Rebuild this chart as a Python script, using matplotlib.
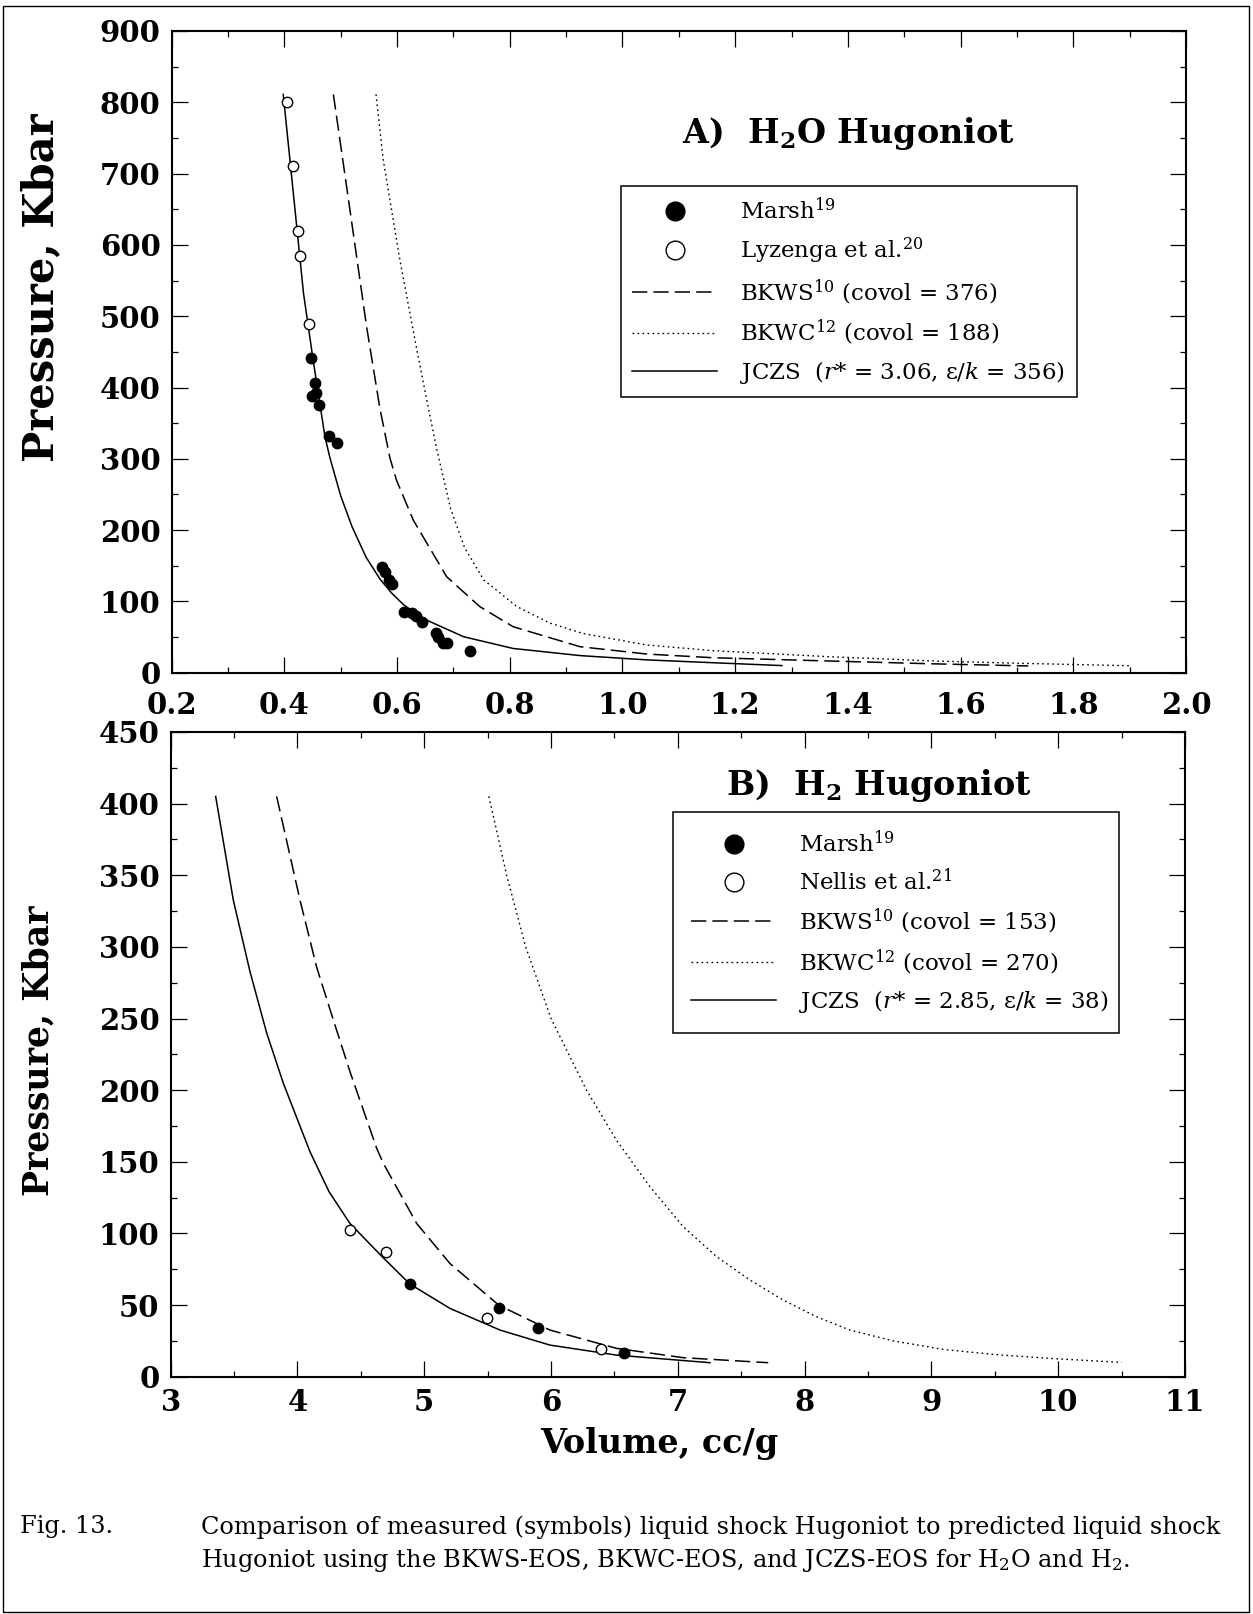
import matplotlib
matplotlib.use('Agg')
import matplotlib.pyplot as plt
from matplotlib.ticker import MultipleLocator, FormatStrFormatter
from matplotlib.patches import Rectangle

plt.rcParams['font.family'] = ['DejaVu Serif']
plt.rcParams['mathtext.fontset'] = 'dejavuserif'

# ---------------- Panel A: H2O ----------------
h2o_marsh_v = [0.4467, 0.4538, 0.456, 0.449, 0.461, 0.479, 0.4928, 0.5727, 0.578, 0.5862, 0.591,
               0.6121, 0.626, 0.6335, 0.6435, 0.669, 0.672, 0.682, 0.688, 0.7296]
h2o_marsh_p = [441, 407, 392, 388, 375, 331.5, 321.7, 147.8, 141.7, 130, 124.4,
               84.7, 84.2, 80, 71.5, 55, 50, 41.2, 41.2, 29.9]
h2o_lyz_v = [0.405, 0.4147, 0.4236, 0.428, 0.443]
h2o_lyz_p = [801, 710.6, 619.5, 585, 489]

h2o_jczs_v = [0.398, 0.416, 0.434, 0.451, 0.472, 0.481, 0.50, 0.52, 0.545, 0.57, 0.59, 0.612,
              0.649, 0.718, 0.806, 0.925, 1.043, 1.161, 1.283]
h2o_jczs_p = [811, 672, 532, 439, 331, 301, 248, 205, 162, 131, 112, 95,
              75, 50.5, 34, 24, 18, 14, 10]
h2o_bkws_v = [0.487, 0.5164, 0.546, 0.5697, 0.5874, 0.599, 0.6288, 0.688, 0.747, 0.806, 0.9246,
              1.043, 1.161, 1.368, 1.55, 1.72]
h2o_bkws_p = [811, 649, 485, 370, 301, 270, 214, 134.6, 92.6, 64.5, 36.5,
              26.2, 21, 16.4, 12.5, 9.5]
h2o_bkwc_v = [0.5626, 0.5755, 0.605, 0.6346, 0.652, 0.67, 0.695, 0.72, 0.754, 0.813, 0.87, 0.93,
              1.043, 1.161, 1.368, 1.55, 1.704, 1.9]
h2o_bkwc_p = [811, 719, 579, 455, 385, 315, 230, 175, 130, 92.6, 70, 55,
              38.9, 30.9, 22.4, 16.5, 13.2, 9.8]

labels_a = ["Marsh$^{19}$", "Lyzenga et al.$^{20}$", "BKWS$^{10}$ (covol = 376)",
            "BKWC$^{12}$ (covol = 188)", "JCZS  ($r$* = 3.06, ε/$k$ = 356)"]
title_a = r"A)  H$_\mathbf{2}$O Hugoniot"

# ---------------- Panel B: H2 ----------------
h2_marsh_v = [4.887, 5.587, 5.899, 6.578]
h2_marsh_p = [64.7, 47.7, 33.8, 16.3]
h2_nellis_v = [4.414, 4.698, 5.497, 6.396]
h2_nellis_p = [102.4, 87, 40.8, 19.5]

h2_jczs_v = [3.355, 3.494, 3.625, 3.757, 3.888, 4.099, 4.25, 4.414, 4.677, 4.887, 5.203, 5.597,
             5.991, 6.517, 7.253]
h2_jczs_p = [405, 332.7, 283, 240, 205, 157, 129, 107, 83, 64.7, 47.7, 32.6,
             22.1, 15.1, 9.8]
h2_bkws_v = [3.836, 4.02, 4.151, 4.283, 4.414, 4.625, 4.677, 4.94, 5.203, 5.587, 5.991,
             6.517, 7.043, 7.713]
h2_bkws_p = [405, 332.7, 286, 249, 213, 159.4, 149, 107, 79, 50, 32.6,
             19.8, 13.3, 9.8]
h2_bkwc_v = [5.51, 5.65, 5.80, 6.0, 6.28, 6.517, 6.78, 7.043, 7.306, 7.569, 7.831, 8.094,
             8.357, 8.7, 9.1, 9.5, 9.935, 10.5]
h2_bkwc_p = [405, 350, 300, 250, 200, 165, 132.6, 104.7, 83.8, 67.5, 53.5, 41.9,
             32.6, 25, 19, 15.5, 12.8, 10]

labels_b = ["Marsh$^{19}$", "Nellis et al.$^{21}$", "BKWS$^{10}$ (covol = 153)",
            "BKWC$^{12}$ (covol = 270)", "JCZS  ($r$* = 2.85, ε/$k$ = 38)"]
title_b = r"B)  H$_\mathbf{2}$ Hugoniot"

ylabel_text = "Pressure, Kbar"
xlabel_text = "Volume, cc/g"
caption_head = "Fig. 13."
caption_line1 = "Comparison of measured (symbols) liquid shock Hugoniot to predicted liquid shock"
caption_line2 = "Hugoniot using the BKWS-EOS, BKWC-EOS, and JCZS-EOS for H$_2$O and H$_2$."

# ---------------- Figure ----------------
fig = plt.figure(figsize=(12.53, 16.14), dpi=100)
ax1 = fig.add_axes([0.1370, 0.5832, 0.8095, 0.3976])
ax2 = fig.add_axes([0.1362, 0.1470, 0.8095, 0.3995])

DASH = (0, (10, 4))
DOT = (0, (1.2, 2.4))


def style_axes(ax, xlim, ylim, xmaj, xmin, ymaj, ymin, xfmt, xpad):
    ax.set_xlim(*xlim)
    ax.set_ylim(*ylim)
    ax.xaxis.set_major_locator(MultipleLocator(xmaj))
    ax.xaxis.set_minor_locator(MultipleLocator(xmin))
    ax.yaxis.set_major_locator(MultipleLocator(ymaj))
    ax.yaxis.set_minor_locator(MultipleLocator(ymin))
    ax.xaxis.set_major_formatter(FormatStrFormatter(xfmt))
    ax.tick_params(which='both', direction='in', top=True, right=True)
    ax.tick_params(which='major', length=11.5, width=0.9, labelsize=21, pad=8)
    ax.tick_params(axis='x', which='major', pad=xpad)
    ax.tick_params(which='minor', length=4.5, width=0.9)
    for lab in ax.get_xticklabels() + ax.get_yticklabels():
        lab.set_fontweight('bold')
    for sp in ax.spines.values():
        sp.set_linewidth(1.5)


def draw_panel(ax, mv, mp, ov, op, sv, sp_, dv, dp, cv, cp, labels):
    h_m, = ax.plot(mv, mp, 'o', ms=7.5, color='black', zorder=4, label=labels[0])
    h_o, = ax.plot(ov, op, 'o', ms=7.5, mfc='white', mec='black', mew=1.0, zorder=4, label=labels[1])
    h_d, = ax.plot(dv, dp, color='black', lw=1.1, linestyle=DASH, label=labels[2])
    h_c, = ax.plot(cv, cp, color='black', lw=1.0, linestyle=DOT, label=labels[3])
    h_s, = ax.plot(sv, sp_, color='black', lw=1.1, label=labels[4])
    return [h_m, h_o, h_d, h_c, h_s]


hA = draw_panel(ax1, h2o_marsh_v, h2o_marsh_p, h2o_lyz_v, h2o_lyz_p,
                h2o_jczs_v, h2o_jczs_p, h2o_bkws_v, h2o_bkws_p, h2o_bkwc_v, h2o_bkwc_p, labels_a)
hB = draw_panel(ax2, h2_marsh_v, h2_marsh_p, h2_nellis_v, h2_nellis_p,
                h2_jczs_v, h2_jczs_p, h2_bkws_v, h2_bkws_p, h2_bkwc_v, h2_bkwc_p, labels_b)

style_axes(ax1, (0.2, 2.0), (0, 900), 0.2, 0.1, 100, 50, '%.1f', 13)
style_axes(ax2, (3, 11), (0, 450), 1, 0.5, 50, 25, '%d', 8)


def make_legend(ax, handles, x0, ytop, w, bpad, lspace):
    leg = ax.legend(handles=handles, loc='upper left', bbox_to_anchor=(x0, ytop - 0.1, w, 0.1),
                    mode='expand', borderaxespad=0, fontsize=16.5, frameon=True, fancybox=False,
                    edgecolor='black', framealpha=1, borderpad=bpad, handlelength=3.7,
                    handletextpad=1.0, labelspacing=lspace, markerscale=1.8)
    leg.get_frame().set_linewidth(1.1)
    return leg


make_legend(ax1, hA, 0.443, 0.7585, 0.4495, 0.5, 0.5)
make_legend(ax2, hB, 0.4952, 0.8759, 0.4398, 0.8, 0.5)

ax1.text(0.667, 0.8395, title_a, transform=ax1.transAxes, ha='center', va='center',
         fontsize=24, fontweight='bold')
ax2.text(0.698, 0.9162, title_b, transform=ax2.transAxes, ha='center', va='center',
         fontsize=24, fontweight='bold')

ax1.set_ylabel(ylabel_text, fontsize=30, fontweight='bold')
ax1.yaxis.set_label_coords(-0.108, 0.60)
ax2.set_ylabel(ylabel_text, fontsize=25, fontweight='bold')
ax2.yaxis.set_label_coords(-0.113, 0.505)

fig.text(659 / 1253, 1 - 1443 / 1614, xlabel_text, ha='center', va='center',
         fontsize=24, fontweight='bold')

fig.text(20 / 1253, 1 - 1527 / 1614, caption_head, ha='left', va='center', fontsize=17.3)
fig.text(201 / 1253, 1 - 1527 / 1614, caption_line1, ha='left', va='center', fontsize=17.3)
fig.text(201 / 1253, 1 - 1560 / 1614, caption_line2, ha='left', va='center', fontsize=17.3)

fig.patches.append(Rectangle((3 / 1253, 2 / 1614), 1246 / 1253, 1606 / 1614,
                             transform=fig.transFigure, fill=False, edgecolor='black',
                             linewidth=1.0))

fig.savefig('out.png', dpi=100)
